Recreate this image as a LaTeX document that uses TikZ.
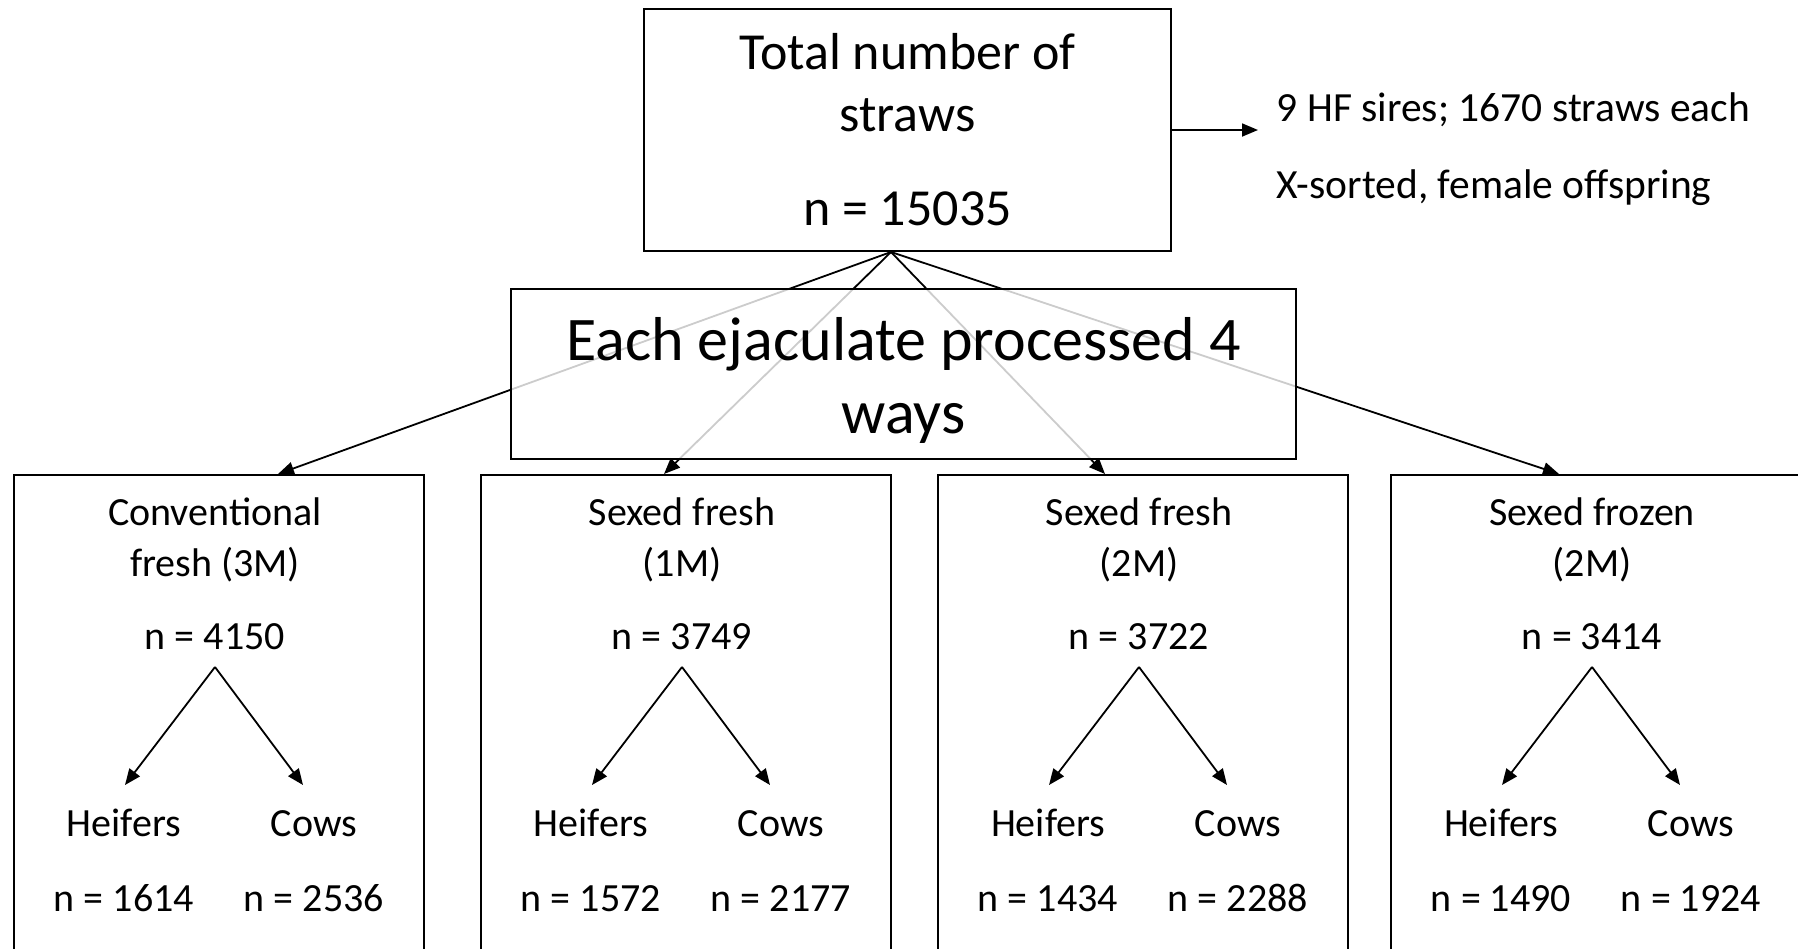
\documentclass[tikz,border=0pt]{standalone}
\usepackage{fontspec}
\setmainfont{Carlito}
\usepackage{tikz}
\usetikzlibrary{arrows.meta}

\begin{document}
\begin{tikzpicture}[x=1pt,y=-1pt,->,>={Triangle[length=16pt,width=13pt]},line width=1.8pt,
  main box/.style={draw,rectangle,line width=2pt,inner sep=0pt,align=center},
  way box/.style={draw,rectangle,line width=2pt,anchor=north west,minimum width=410pt,minimum height=520pt},
  way title/.style={anchor=north,align=center,inner sep=0pt,font=\fontsize{40}{51}\selectfont},
  way count/.style={anchor=south,inner xsep=2pt,inner ysep=16pt,font=\fontsize{40}{48}\selectfont},
  way split/.style={anchor=north,align=center,inner xsep=2pt,inner ysep=17pt,font=\fontsize{40}{48}\selectfont},
  side note/.style={anchor=base west,inner sep=0pt,font=\fontsize{41.5}{49}\selectfont}]
\useasboundingbox (0,0) rectangle (1798,948);
\clip (0,0) rectangle (1798,948);

\node[main box,minimum width=527pt,minimum height=242pt,font=\fontsize{52}{62}\selectfont] (total) at (907.5,130) {Total number of\\straws\\[32pt]n = 15035}; % top box
\node[side note] (sires) at (1276,121) {9 HF sires; 1670 straws each};
\node[side note] (sorted) at (1276,198) {X-sorted, female offspring};
\draw[shorten >=18pt] (total.east) -- (total.east -| sires.west);

% the four ways, cut off by the lower edge
\node[way box] (conv) at (13,474) {};
\node[way box] (fresh1) at (480,474) {};
\node[way box] (fresh2) at (937,474) {};
\node[way box] (frozen) at (1390,474) {};

\draw ([xshift=-16.5pt]total.south) -- ([xshift=59pt]conv.north);
\draw ([xshift=-16.5pt]total.south) -- ([xshift=-22pt]fresh1.north);
\draw ([xshift=-16.5pt]total.south) -- ([xshift=-38pt]fresh2.north);
\draw ([xshift=-16.5pt]total.south) -- ([xshift=-37pt]frozen.north);

\node[main box,fill=white,fill opacity=0.8,text opacity=1,minimum width=785pt,minimum height=170pt,font=\fontsize{62}{73}\selectfont] (ways) at (903.5,374) {\rule{0pt}{56pt}Each ejaculate processed 4\\ways}; % over the lines

\node[way title] (convt) at (215,497) {Conventional\\fresh (3M)};
\node[way count] (convn) at (215,667) {n = 4150};
\node[way split] (convh) at (124,785) {\strut Heifers\\[27pt]n = 1614};
\node[way split] (convc) at (314,785) {\strut Cows\\[27pt]n = 2536};

\node[way title] (fresh1t) at (682,497) {Sexed fresh\\(1M)};
\node[way count] (fresh1n) at (682,667) {n = 3749};
\node[way split] (fresh1h) at (591,785) {\strut Heifers\\[27pt]n = 1572};
\node[way split] (fresh1c) at (781,785) {\strut Cows\\[27pt]n = 2177};

\node[way title] (fresh2t) at (1139,497) {Sexed fresh\\(2M)};
\node[way count] (fresh2n) at (1139,667) {n = 3722};
\node[way split] (fresh2h) at (1048,785) {\strut Heifers\\[27pt]n = 1434};
\node[way split] (fresh2c) at (1238,785) {\strut Cows\\[27pt]n = 2288};

\node[way title] (frozent) at (1592,497) {Sexed frozen\\(2M)};
\node[way count] (frozenn) at (1592,667) {n = 3414};
\node[way split] (frozenh) at (1501,785) {\strut Heifers\\[27pt]n = 1490};
\node[way split] (frozenc) at (1691,785) {\strut Cows\\[27pt]n = 1924};

\draw (convn.south) -- ([xshift=1pt]convh.north);
\draw (convn.south) -- ([xshift=-11pt]convc.north);
\draw (fresh1n.south) -- ([xshift=1pt]fresh1h.north);
\draw (fresh1n.south) -- ([xshift=-11pt]fresh1c.north);
\draw (fresh2n.south) -- ([xshift=1pt]fresh2h.north);
\draw (fresh2n.south) -- ([xshift=-11pt]fresh2c.north);
\draw (frozenn.south) -- ([xshift=1pt]frozenh.north);
\draw (frozenn.south) -- ([xshift=-11pt]frozenc.north);
\end{tikzpicture}
\end{document}
